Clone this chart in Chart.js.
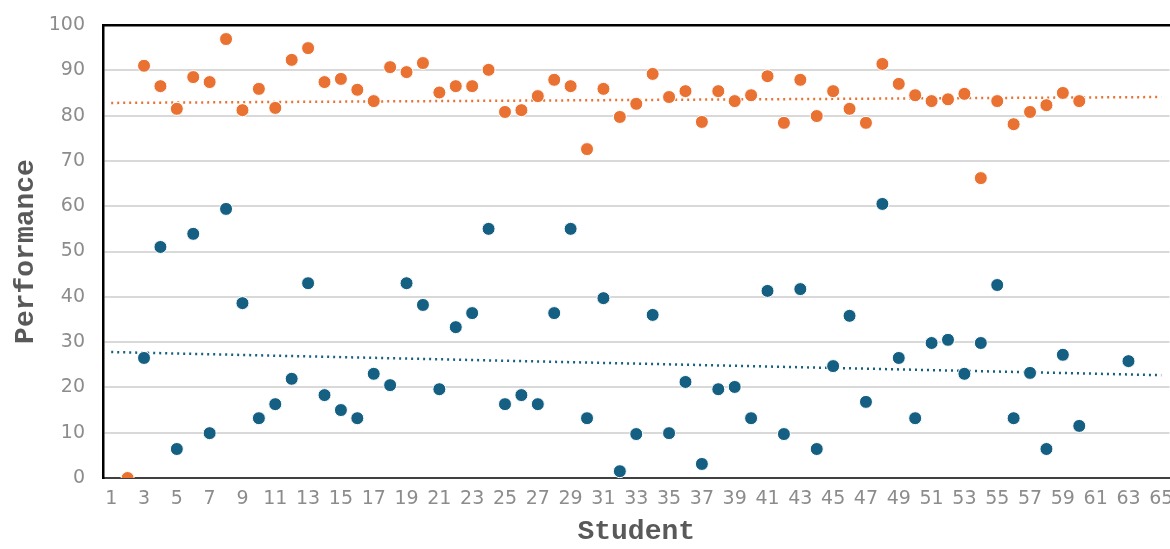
<!DOCTYPE html>
<html lang="en">
<head>
  <meta charset="UTF-8" />
  <title>Performance by Student</title>
  <script src="https://cdn.jsdelivr.net/npm/chart.js"></script>
  <style>
    html, body { margin: 0; padding: 0; background: #fff; overflow: hidden; }
    #wrap { width: 1177px; height: 549px; }
  </style>
</head>
<body>
  <div id="wrap"><canvas id="perfChart"></canvas></div>

  <script>
    // students 1..65
    const students = [];
    for (let i = 1; i <= 65; i++) students.push(String(i));

    // orange series, index 0 = student 1
    const orangeScores = [
      null, 0, 91.0, 86.5, 81.5, 88.5, 87.4, 96.9, 81.2, 85.9,
      81.7, 92.3, 94.9, 87.4, 88.1, 85.7, 83.2, 90.7, 89.6, 91.6,
      85.1, 86.5, 86.5, 90.1, 80.8, 81.2, 84.3, 87.9, 86.5, 72.6,
      85.9, 79.7, 82.6, 89.2, 84.1, 85.4, 78.6, 85.4, 83.2, 84.5,
      88.7, 78.4, 87.9, 79.9, 85.4, 81.5, 78.4, 91.4, 87.0, 84.5,
      83.2, 83.6, 84.8, 66.2, 83.2, 78.1, 80.8, 82.3, 85.0, 83.2,
      null, null, null, null, null
    ];

    // blue series
    const blueScores = [
      null, null, 26.5, 51.0, 6.4, 53.9, 9.9, 59.4, 38.6, 13.2,
      16.3, 21.9, 43.0, 18.3, 15.0, 13.2, 23.0, 20.5, 43.0, 38.2,
      19.6, 33.3, 36.4, 55.0, 16.3, 18.3, 16.3, 36.4, 55.0, 13.2,
      39.7, 1.5, 9.7, 36.0, 9.9, 21.2, 3.1, 19.6, 20.1, 13.2,
      41.3, 9.7, 41.7, 6.4, 24.7, 35.8, 16.8, 60.5, 26.5, 13.2,
      29.8, 30.5, 23.0, 29.8, 42.6, 13.2, 23.2, 6.4, 27.2, 11.5,
      null, null, 25.8, null, null
    ];

    // trend line ends (student 1 and student 65)
    const orangeTrend = [82.8, 84.1];
    const blueTrend = [27.8, 22.7];

    const yTicks = [0, 10, 20, 30, 40, 50, 60, 70, 80, 90, 100];

    const ORANGE = '#E97132';
    const BLUE = '#156082';

    function trendData(ends) {
      const arr = students.map(() => null);
      arr[0] = ends[0];
      arr[arr.length - 1] = ends[1];
      return arr;
    }

    function noSidePad(scale) {
      scale.paddingLeft = 0;
      scale.paddingRight = 0;
    }

    const tickFont = { family: 'DejaVu Sans', size: 19 };
    const titleFont = { family: 'Liberation Mono', size: 28, weight: 'bold' };

    const ctx = document.getElementById('perfChart').getContext('2d');
    new Chart(ctx, {
      type: 'line',
      data: {
        labels: students,
        datasets: [
          {
            label: 'Series A',
            data: orangeScores,
            showLine: false,
            pointRadius: 6.5,
            pointBackgroundColor: ORANGE,
            pointBorderColor: '#ffffff',
            pointBorderWidth: 1,
            order: 1
          },
          {
            label: 'Series B',
            data: blueScores,
            showLine: false,
            pointRadius: 6.5,
            pointBackgroundColor: BLUE,
            pointBorderColor: '#ffffff',
            pointBorderWidth: 1,
            order: 1
          },
          {
            label: 'Trend A',
            data: trendData(orangeTrend),
            spanGaps: true,
            borderColor: ORANGE,
            borderWidth: 2.5,
            borderDash: [2, 4],
            pointRadius: 0,
            order: 2
          },
          {
            label: 'Trend B',
            data: trendData(blueTrend),
            spanGaps: true,
            borderColor: BLUE,
            borderWidth: 2.5,
            borderDash: [2, 4],
            pointRadius: 0,
            order: 2
          }
        ]
      },
      options: {
        responsive: true,
        maintainAspectRatio: false,
        animation: false,
        layout: { padding: { top: 25, right: 0, left: 0, bottom: 0 } },
        plugins: {
          legend: { display: false },
          tooltip: { enabled: false }
        },
        scales: {
          x: {
            offset: true,
            grid: { display: false, drawTicks: false },
            border: { display: true, color: '#404040', width: 2 },
            ticks: {
              autoSkip: false,
              maxRotation: 0,
              padding: 10,
              color: '#8c8c8c',
              font: tickFont,
              callback: function(val, i) {
                return i % 2 === 0 ? students[i] : '';
              }
            },
            title: {
              display: true,
              text: 'Student',
              color: '#595959',
              font: titleFont,
              padding: { top: 10, bottom: 0 }
            },
            afterFit: function(scale) {
              scale.height = 71;
              noSidePad(scale);
            }
          },
          xTop: {
            position: 'top',
            offset: true,
            grid: { display: false, drawTicks: false },
            border: { display: true, color: '#000000', width: 2.5 },
            ticks: { display: false },
            afterFit: function(scale) {
              scale.height = 0;
              noSidePad(scale);
            }
          },
          y: {
            min: 0,
            max: 100,
            afterBuildTicks: function(scale) {
              scale.ticks = yTicks.map(v => ({ value: v }));
            },
            grid: { color: '#d9d9d9', lineWidth: 2, drawTicks: false },
            border: { display: true, color: '#000000', width: 2.5 },
            ticks: {
              padding: 18,
              color: '#8c8c8c',
              font: tickFont
            },
            title: {
              display: true,
              text: 'Performance',
              color: '#595959',
              font: titleFont,
              padding: { top: 9, bottom: 0 }
            },
            afterFit: function(scale) {
              scale.width = 103;
              scale.paddingTop = 0;
              scale.paddingBottom = 0;
            }
          }
        }
      }
    });
  </script>
</body>
</html>
